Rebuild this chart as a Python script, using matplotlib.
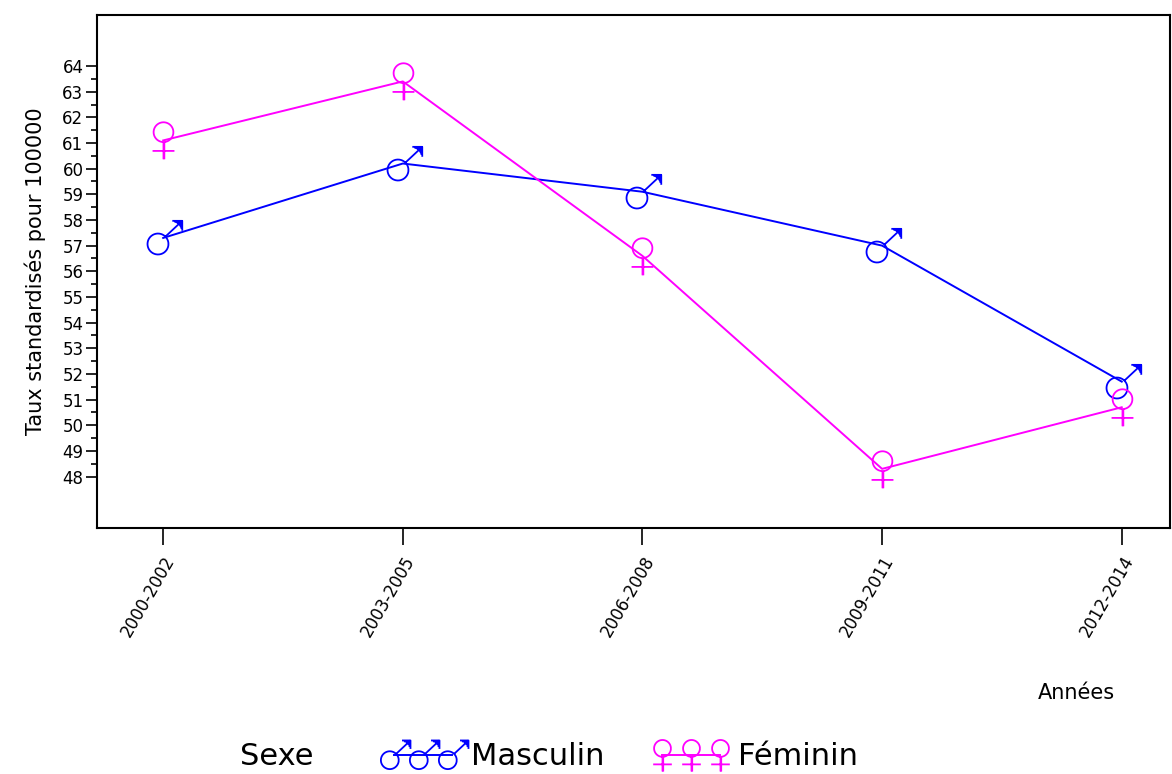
import numpy as np
import matplotlib
matplotlib.use('Agg')
import matplotlib.pyplot as plt
from matplotlib.lines import Line2D
from matplotlib.path import Path
from matplotlib.ticker import FixedLocator

# data
periodes = ['2000-2002', '2003-2005', '2006-2008', '2009-2011', '2012-2014']
masculin = [57.3, 60.2, 59.1, 57.0, 51.7]
feminin = [61.1, 63.4, 56.6, 48.3, 50.7]
yticks = list(range(48, 65))

bleu = '#0000ff'
rose = '#ff00ff'


def cercle(cx, cy, r, n=40):
    t = np.linspace(0, 2 * np.pi, n)
    return list(zip(cx + r * np.cos(t), cy + r * np.sin(t)))


def symbole_male():
    v = cercle(-5, -5, 9.5)
    c = [Path.MOVETO] + [Path.LINETO] * (len(v) - 1)
    seg = [(1.7, 1.7), (17, 16), (8, 16), (17, 16), (17, 7),
           (16, 15), (10, 15), (16, 15), (16, 9),
           (15, 14), (12, 14), (15, 14), (15, 11)]
    v += seg
    c += [Path.MOVETO, Path.LINETO, Path.MOVETO, Path.LINETO, Path.LINETO,
          Path.MOVETO, Path.LINETO, Path.MOVETO, Path.LINETO,
          Path.MOVETO, Path.LINETO, Path.MOVETO, Path.LINETO]
    return Path(v, c)


def symbole_femelle():
    v = cercle(0, 8, 9.5)
    c = [Path.MOVETO] + [Path.LINETO] * (len(v) - 1)
    seg = [(0, -1.5), (0, -18), (-10.5, -10), (10.5, -10),
           (0.8, -1.5), (0.8, -18)]
    v += seg
    c += [Path.MOVETO, Path.LINETO, Path.MOVETO, Path.LINETO,
          Path.MOVETO, Path.LINETO]
    return Path(v, c)


m_male = symbole_male()
m_fem = symbole_femelle()

fig = plt.figure(figsize=(11.72, 7.74), dpi=100)
ax = fig.add_axes([0.083, 0.318, 0.915, 0.663])

x = np.arange(len(periodes))
ax.plot(x, masculin, color=bleu, lw=1.4, marker=m_male, ms=27, mew=1.3,
        mfc='none')
ax.plot(x, feminin, color=rose, lw=1.4, marker=m_fem, ms=27, mew=1.3,
        mfc='none')

ax.set_xlim(-0.275, 4.2)
ax.set_ylim(46, 66)
ax.set_yticks(yticks)
ax.yaxis.set_minor_locator(FixedLocator(np.arange(48.5, 64, 1)))
ax.set_xticks(x)
ax.set_xticklabels(periodes, rotation=60, ha='right', rotation_mode='anchor',
                   fontsize=12)
ax.tick_params(axis='y', labelsize=12, length=8, width=1.2, direction='out',
               pad=2)
ax.tick_params(axis='y', which='minor', length=4, width=1.2)
ax.tick_params(axis='x', length=12, width=1.2, direction='out', pad=6)
for s in ax.spines.values():
    s.set_linewidth(1.5)

ax.set_ylabel('Taux standardisés pour 100000', fontsize=15, labelpad=12)
fig.text(0.918, 0.097, 'Années', fontsize=15, ha='center')

# legende en bas
fig.text(0.205, 0.022, 'Sexe', fontsize=22, va='center')
h1 = Line2D([], [], color=bleu, lw=1.4, marker=m_male, ms=23, mew=1.3,
            mfc='none')
h2 = Line2D([], [], color=rose, lw=1.4, marker=m_fem, ms=23, mew=1.3,
            mfc='none')
fig.legend([h1, h2], ['Masculin', 'Féminin'], loc='center left',
           bbox_to_anchor=(0.305, 0.022), ncol=2, frameon=False, fontsize=22,
           numpoints=3, handlelength=2.5, handletextpad=0.3,
           columnspacing=1.6)

fig.savefig('out.png', dpi=100)
